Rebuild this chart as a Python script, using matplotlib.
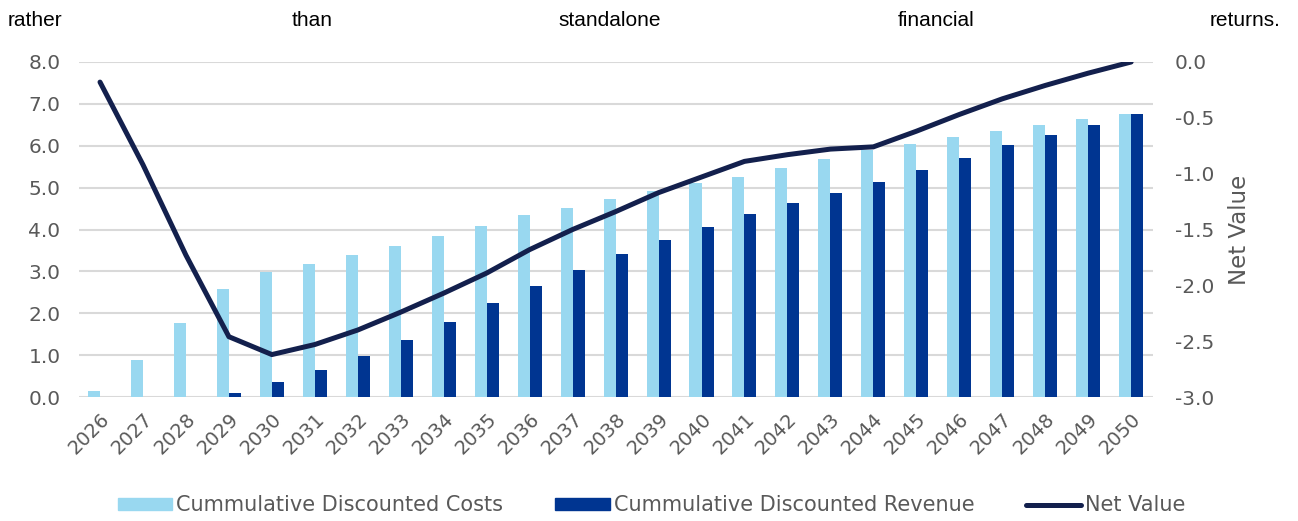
import matplotlib.pyplot as plt
import numpy as np
from matplotlib.lines import Line2D
from matplotlib.patches import Patch

plt.rcParams['font.family'] = ['DejaVu Sans']
plt.rcParams['axes.unicode_minus'] = False

years = [str(y) for y in range(2026, 2051)]
costs = [0.14, 0.88, 1.77, 2.59, 2.98, 3.17, 3.38, 3.60, 3.84, 4.09, 4.34, 4.52, 4.73,
         4.91, 5.11, 5.25, 5.47, 5.68, 5.89, 6.05, 6.21, 6.36, 6.50, 6.63, 6.75]
revenue = [0.0, 0.0, 0.0, 0.10, 0.35, 0.65, 0.97, 1.37, 1.79, 2.25, 2.65, 3.04, 3.41,
           3.75, 4.06, 4.37, 4.64, 4.88, 5.13, 5.41, 5.71, 6.02, 6.26, 6.50, 6.75]
net_value = [-0.18, -0.92, -1.73, -2.46, -2.62, -2.53, -2.40, -2.24, -2.07, -1.89, -1.68,
             -1.50, -1.34, -1.17, -1.03, -0.89, -0.83, -0.78, -0.76, -0.62, -0.47, -0.33,
             -0.21, -0.10, 0.0]
header_words = ['rather', 'than', 'standalone', 'financial', 'returns.']

c_costs = '#99D8F0'
c_rev = '#003591'
c_net = '#13204D'
c_tick = '#595959'

fig = plt.figure(figsize=(12.98, 5.21), dpi=100)
ax = fig.add_axes([0.0605, 0.238, 0.8275, 0.643])
ax2 = ax.twinx()

x = np.arange(len(years))
w = 0.28
ax.bar(x - w / 2, costs, w, color=c_costs, zorder=2)
ax.bar(x + w / 2, revenue, w, color=c_rev, zorder=2)
ax2.plot(x, net_value, color=c_net, lw=3.6, solid_capstyle='round', solid_joinstyle='round')

ax.set_xlim(-0.5, len(years) - 0.5)
ax.set_ylim(0, 8)
ax.set_yticks(np.arange(0, 8.1, 1.0))
ax.yaxis.set_major_formatter('{x:.1f}')
ax2.set_ylim(-3, 0)
ax2.set_yticks(np.arange(-3, 0.01, 0.5))
ax2.yaxis.set_major_formatter('{x:.1f}')

ax.grid(axis='y', color='#D9D9D9', lw=1.5, zorder=0)
ax.set_axisbelow(True)
for a in (ax, ax2):
    for s in a.spines.values():
        s.set_visible(False)

ax.set_xticks(x)
ax.set_xticklabels(years, rotation=45, ha='right', rotation_mode='anchor')
ax.tick_params(axis='x', length=0, pad=9, labelsize=14, labelcolor=c_tick)
ax.tick_params(axis='y', length=0, pad=13, labelsize=14.5, labelcolor=c_tick)
ax2.tick_params(axis='y', length=0, pad=16, labelsize=14.5, labelcolor=c_tick)
ax2.set_ylabel('Net Value', fontsize=16.5, color=c_tick, labelpad=10)

handles = [Patch(color=c_costs), Patch(color=c_rev),
           Line2D([], [], color=c_net, lw=3.6, solid_capstyle='round')]
fig.legend(handles, ['Cummulative Discounted Costs', 'Cummulative Discounted Revenue', 'Net Value'],
           loc='center', bbox_to_anchor=(0.502, 0.03), ncol=3, frameon=False, fontsize=15,
           labelcolor=c_tick, handlelength=2.6, handleheight=0.5, handletextpad=0.2,
           columnspacing=2.5)

# justified sentence fragment running across the top
word_x = [0.006, 0.225, 0.43, 0.692, 0.932]
for wx, word in zip(word_x, header_words):
    fig.text(wx, 0.96, word, fontsize=15, color='black', va='center', ha='left',
             family='Liberation Sans')

fig.savefig('out.png', dpi=100)
